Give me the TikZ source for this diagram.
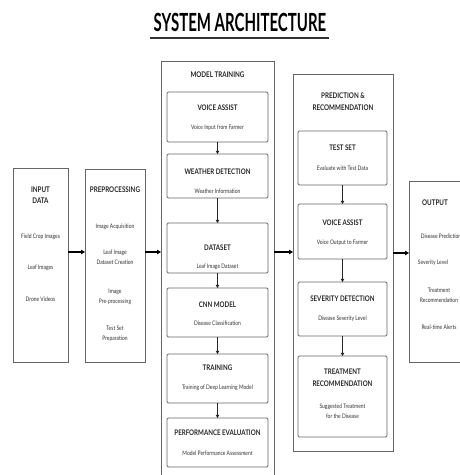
\documentclass[tikz,border=0pt]{standalone}
\usepackage{fontspec}
\setmainfont{Lato}[FakeStretch=0.8]
\newfontfamily\titlefont{Lato}[FakeStretch=0.6]
\usetikzlibrary{arrows.meta}
\tikzset{
  x=1pt, y=-1pt,
  outerbox/.style={draw=black!60, line width=0.8pt, fill=white, inner sep=0pt, outer sep=0pt},
  innerbox/.style={draw=black!60, line width=0.8pt, fill=white, rounded corners=1.2pt, inner sep=0pt, outer sep=0pt},
  hd/.style={font=\bfseries\fontsize{7.7}{9}\selectfont, text=black!85, inner sep=0pt, align=center},
  ohd/.style={font=\bfseries\fontsize{7.8}{9.4}\selectfont, text=black!85, inner sep=0pt, align=center},
  sub/.style={font=\fontsize{6.2}{7.4}\selectfont, text=black!80, inner sep=0pt, align=center},
  arr/.style={draw=black, line width=1.3pt, -{Triangle[length=4pt,width=4.5pt]}},
  iarr/.style={draw=black!85, line width=0.9pt, -{Triangle[length=3.2pt,width=3.6pt]}},
}
\newcommand{\bx}[6]{\node[#1, minimum width={(#5)-(#3)}, minimum height={(#6)-(#4)}] (#2) at ({((#3)+(#5))/2},{((#4)+(#6))/2}) {};}
\begin{document}
\begin{tikzpicture}
\useasboundingbox[fill=white] (0,0) rectangle (460,475);
% title
\node[font=\titlefont\bfseries\fontsize{25}{27}\selectfont, inner sep=0pt] (title) at (240,22.5) {SYSTEM ARCHITECTURE};
\draw[line width=2pt, black!80] (150,38) coordinate (ul1) -- (329,38) coordinate (ul2);

% outer boxes
\bx{outerbox}{inp}{13}{168}{68}{362}
\bx{outerbox}{pre}{85}{169}{145}{362}
\bx{outerbox}{mdl}{161}{61}{274}{482}
\bx{outerbox}{prd}{293}{74}{393}{451}
\bx{outerbox}{out}{409}{181}{472}{362}

% input data
\node[ohd] (inpT) at (40.5,195) {INPUT\\[1pt]DATA};
\node[sub] (inp1) at (40.5,237) {Field Crop Images};
\node[sub] (inp2) at (40.5,268) {Leaf Images};
\node[sub] (inp3) at (40.5,299) {Drone Videos};

% preprocessing
\node[ohd] (preT) at (115,190) {PREPROCESSING};
\node[sub] (pre1) at (115,227) {Image Acquisition};
\node[sub] (pre2) at (115,257.5) {Leaf Image\\[2.5pt]Dataset Creation};
\node[sub] (pre3) at (115,296.5) {Image\\[2.5pt]Pre-processing};
\node[sub] (pre4) at (115,334) {Test Set\\[2.5pt]Preparation};

% model training
\node[ohd] (mdlT) at (217.5,75) {MODEL TRAINING};
\bx{innerbox}{m1}{167}{92}{268}{142}
\bx{innerbox}{m2}{167}{154}{268}{198}
\bx{innerbox}{m3}{167}{223}{268}{273}
\bx{innerbox}{m4}{167}{288}{268}{337}
\bx{innerbox}{m5}{167}{354}{268}{403}
\bx{innerbox}{m6}{167}{418}{268}{467}
\node[hd] (m1t) at (217.5,108) {VOICE ASSIST};
\node[sub] (m1s) at (217.5,128) {Voice Input from Farmer};
\node[hd] (m2t) at (217.5,172) {WEATHER DETECTION};
\node[sub] (m2s) at (217.5,191) {Weather Information};
\node[hd] (m3t) at (217.5,248) {DATASET};
\node[sub] (m3s) at (217.5,267) {Leaf Image Dataset};
\node[hd] (m4t) at (217.5,305) {CNN MODEL};
\node[sub] (m4s) at (217.5,323) {Disease Classification};
\node[hd] (m5t) at (217.5,368) {TRAINING};
\node[sub] (m5s) at (217.5,388) {Training of Deep Learning Model};
\node[hd] (m6t) at (217.5,433) {PERFORMANCE EVALUATION};
\node[sub] (m6s) at (217.5,453) {Model Performance Assessment};
\draw[iarr] (m1) -- (m2);
\draw[iarr] (m2) -- (m3);
\draw[iarr] (m3) -- (m4);
\draw[iarr] (m4) -- (m5);
\draw[iarr] (m5) -- (m6);

% prediction & recommendation
\node[ohd] (prdT) at (343,101.5) {PREDICTION \&\\[3pt]RECOMMENDATION};
\bx{innerbox}{p1}{298}{131}{387}{185}
\bx{innerbox}{p2}{298}{204}{387}{259}
\bx{innerbox}{p3}{298}{282}{387}{336}
\bx{innerbox}{p4}{298}{356}{387}{437}
\node[hd] (p1t) at (342.5,148) {TEST SET};
\node[sub] (p1s) at (342.5,168) {Evaluate with Test Data};
\node[hd] (p2t) at (342.5,223) {VOICE ASSIST};
\node[sub] (p2s) at (342.5,243) {Voice Output to Farmer};
\node[hd] (p3t) at (342.5,299) {SEVERITY DETECTION};
\node[sub] (p3s) at (342.5,319) {Disease Severity Level};
\node[hd] (p4t) at (342.5,378) {TREATMENT\\[3pt]RECOMMENDATION};
\node[sub] (p4s) at (342.5,411) {Suggested Treatment\\[3pt]for the Disease};
\draw[iarr] (p1) -- (p2);
\draw[iarr] (p2) -- (p3);
\draw[iarr] (p3) -- (p4);

% output
\node[ohd] (outT) at (435,203) {OUTPUT};
\node[sub] (out1) at (441,236) {Disease Prediction};
\node[sub] (out2) at (433,263) {Severity Level};
\node[sub] (out3) at (439,295) {Treatment\\[3pt]Recommendation};
\node[sub] (out4) at (439,327) {Real-time Alerts};

% main arrows
\coordinate (ya) at (0,252);
\coordinate (yb) at (0,253);
\draw[arr] (inp.east |- ya) -- (pre.west |- ya);
\draw[arr] (pre.east |- ya) -- (mdl.west |- ya);
\draw[arr] (mdl.east |- ya) -- (prd.west |- ya);
\draw[arr] (prd.east |- yb) -- (out.west |- yb);
\end{tikzpicture}
\end{document}
